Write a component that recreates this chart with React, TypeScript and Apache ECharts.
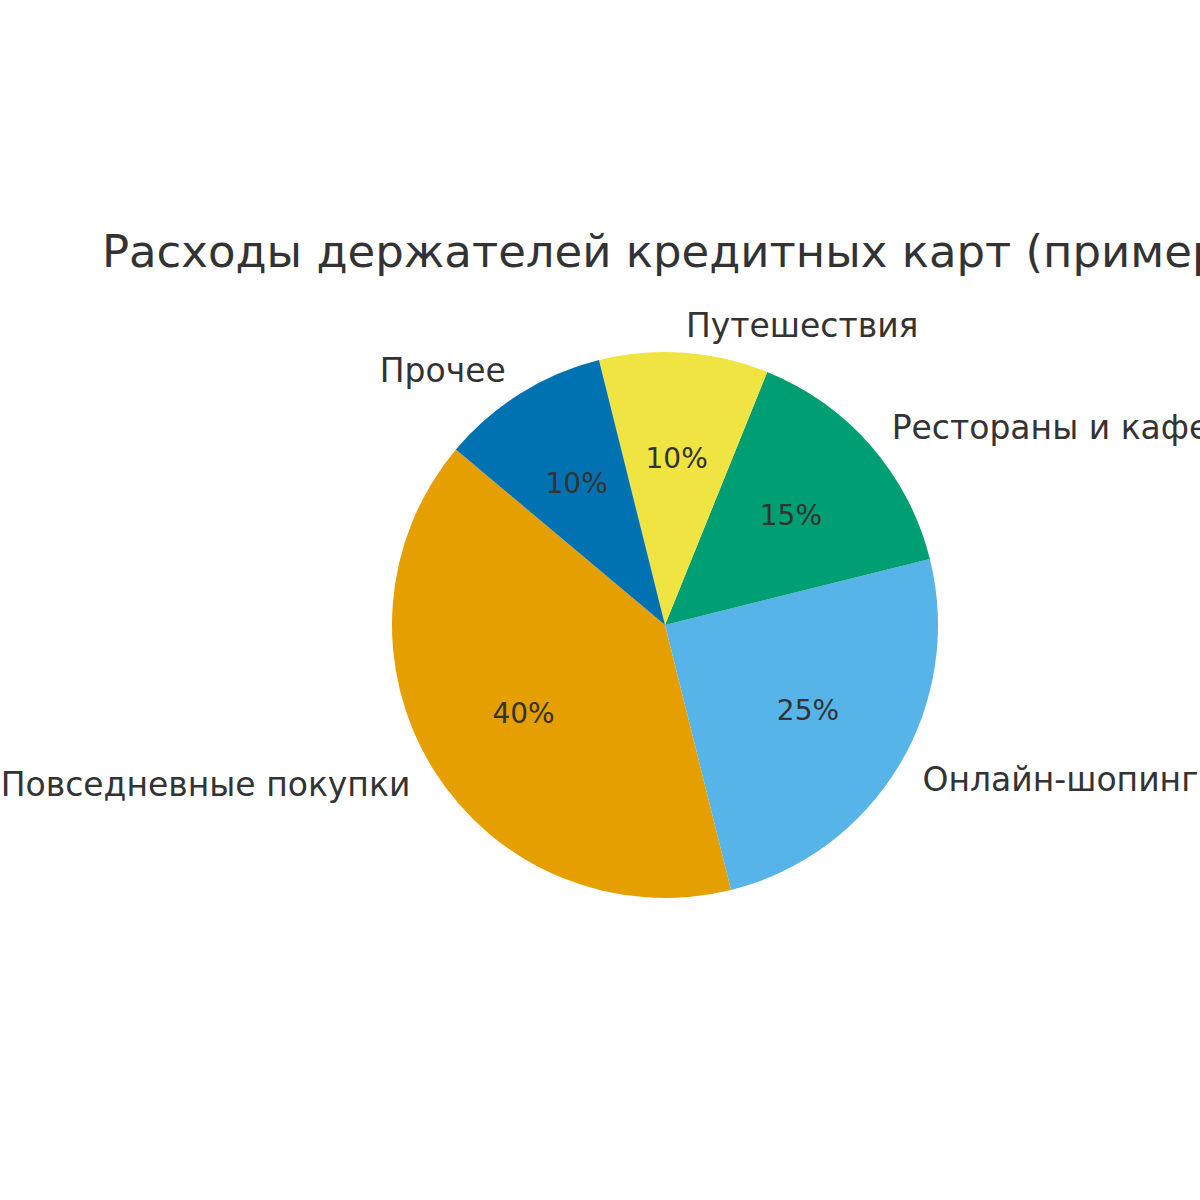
import React, { useEffect, useRef } from "react";
import * as echarts from "echarts";

const titleText = "Расходы держателей кредитных карт (пример)";
const categories = ["Повседневные покупки", "Онлайн-шопинг", "Рестораны и кафе", "Путешествия", "Прочее"];
const values = [40, 25, 15, 10, 10];
const colors = ["#E69F00", "#56B4E9", "#009E73", "#F0E442", "#0072B2"];

const CX = 665;
const CY = 625;
const R = 273;
const FONT = "DejaVu Sans";
const TEXT = "#333333";

export default function App() {
  const ref = useRef<HTMLDivElement>(null);
  useEffect(() => {
    if (!ref.current) return;
    const chart = echarts.init(ref.current, undefined, { renderer: "svg" });
    const total = values.reduce((a, b) => a + b, 0);
    const data = categories.map((name, i) => ({
      name,
      value: values[i],
      itemStyle: { color: colors[i] },
    }));
    chart.setOption({
      animation: false,
      backgroundColor: "#ffffff",
      title: {
        text: titleText,
        left: CX,
        top: 246,
        textAlign: "center",
        textVerticalAlign: "middle",
        textStyle: { fontFamily: FONT, fontSize: 45, fontWeight: "normal", color: TEXT },
      },
      series: [
        {
          type: "pie",
          center: [CX, CY],
          radius: [0, R],
          startAngle: 140,
          clockwise: false,
          avoidLabelOverlap: false,
          silent: true,
          emphasis: { disabled: true },
          data,
          label: {
            show: true,
            position: "outside",
            formatter: "{b}",
            fontFamily: FONT,
            fontSize: 33,
            color: TEXT,
            distanceToLabelLine: 0,
          },
          labelLine: { show: false, length: R * 0.1, length2: 0 },
        },
        {
          type: "pie",
          center: [CX, CY],
          radius: [0, R * 1.2],
          startAngle: 140,
          clockwise: false,
          avoidLabelOverlap: false,
          silent: true,
          emphasis: { disabled: true },
          data: data.map((d) => ({ ...d, itemStyle: { color: "rgba(0,0,0,0)" } })),
          label: {
            show: true,
            position: "inside",
            formatter: (p: any) => `${Math.round((p.value / total) * 100)}%`,
            fontFamily: FONT,
            fontSize: 28,
            color: TEXT,
          },
          labelLine: { show: false },
        },
      ],
    });
    return () => chart.dispose();
  }, []);
  return (
    <div
      ref={ref}
      style={{ position: "fixed", left: 0, top: 0, width: 1200, height: 1200 }}
    />
  );
}
